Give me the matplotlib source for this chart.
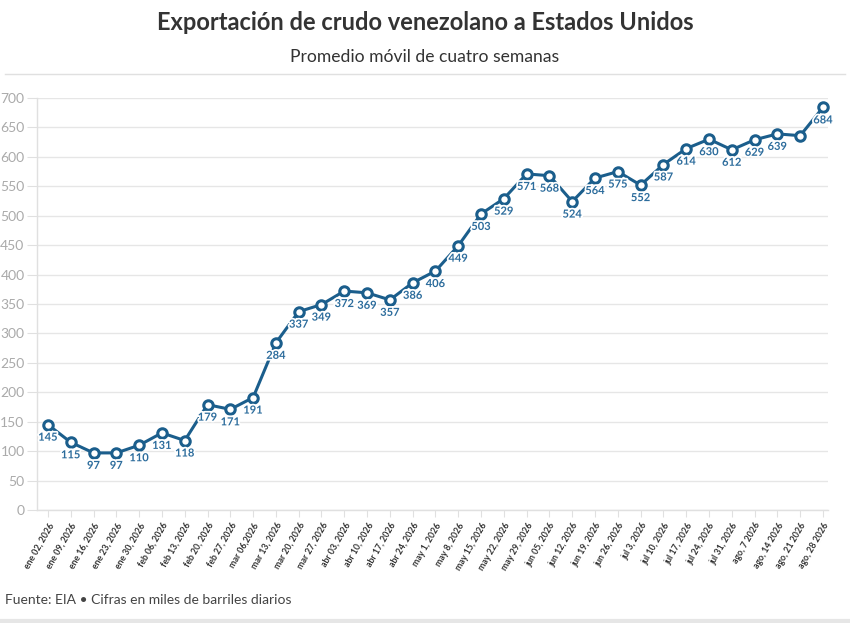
import matplotlib
matplotlib.use("Agg")
import matplotlib.pyplot as plt
import matplotlib.patheffects as pe
from matplotlib.lines import Line2D

dates = ["ene 02, 2026", "ene 09, 2026", "ene 16, 2026", "ene 23, 2026", "ene 30, 2026",
         "feb 06, 2026", "feb 13, 2026", "feb 20, 2026", "feb 27, 2026",
         "mar 06,2026", "mar 13, 2026", "mar 20, 2026", "mar 27, 2026",
         "abr 03, 2026", "abr 10, 2026", "abr 17, 2026", "abr 24, 2026",
         "may 1, 2026", "may 8, 2026", "may 15, 2026", "may 22, 2026", "may 29, 2026",
         "jun 05, 2026", "jun 12, 2026", "jun 19, 2026", "jun 26, 2026",
         "jul 3, 2026", "jul 10, 2026", "jul 17, 2026", "jul 24, 2026", "jul 31, 2026",
         "ago, 7 2026", "ago, 14 2026", "ago, 21 2026", "ago, 28 2026"]
values = [145, 115, 97, 97, 110, 131, 118, 179, 171, 191, 284, 337, 349, 372, 369, 357,
          386, 406, 449, 503, 529, 571, 568, 524, 564, 575, 552, 587, 614, 630, 612, 629,
          639, 636, 684]
hidden_labels = ["ago, 21 2026"]
yticks = [0, 50, 100, 150, 200, 250, 300, 350, 400, 450, 500, 550, 600, 650, 700]

title = "Exportación de crudo venezolano a Estados Unidos"
subtitle = "Promedio móvil de cuatro semanas"
footer = "Fuente: EIA • Cifras en miles de barriles diarios"

plt.rcParams['font.family'] = ['Lato', 'DejaVu Sans']

W, H = 850, 623
fig = plt.figure(figsize=(W / 100, H / 100), dpi=100)
fig.patch.set_facecolor("white")

ax = fig.add_axes([37 / W, 1 - 510 / H, (828 - 37) / W, (510 - 98) / H])
x = list(range(len(values)))
color = "#1b5e8c"
ax.plot(x, values, color=color, lw=2.2, zorder=3, clip_on=False,
        marker="o", markersize=6.8, markerfacecolor="white",
        markeredgecolor=color, markeredgewidth=2.2)

for xi, v, d in zip(x, values, dates):
    if d in hidden_labels:
        continue
    ax.annotate(str(v), (xi, v), xytext=(0, -9), textcoords="offset points",
                ha="center", va="center", fontsize=8, fontweight="bold",
                color="#2c6c9c", zorder=4,
                path_effects=[pe.withStroke(linewidth=2.5, foreground="white")])

ax.set_xlim(-0.48, len(values) - 1 + 0.22)
ax.set_ylim(0, 700)
ax.set_yticks(yticks)
ax.set_yticklabels([str(t) for t in yticks])
ax.set_xticks(x)
ax.set_xticklabels(dates, rotation=60, ha="right", rotation_mode="anchor",
                   fontsize=6.3, fontweight="bold", color="#333333")
ax.tick_params(axis="x", length=5, width=0.8, color="#e0e0e0", pad=3)
ax.tick_params(axis="y", length=7, width=0.8, color="#e0e0e0", pad=2,
               labelsize=10, labelcolor="#aaaaaa")
ax.grid(axis="y", color="#e6e6e6", lw=1, zorder=0)
for s in ["top", "right"]:
    ax.spines[s].set_visible(False)
for s in ["left", "bottom"]:
    ax.spines[s].set_color("#e0e0e0")
    ax.spines[s].set_linewidth(1)
ax.set_axisbelow(True)

fig.text(0.5, 1 - 22 / H, title, ha="center", va="center", fontsize=17,
         fontweight="bold", color="#333333")
fig.text(0.5, 1 - 57 / H, subtitle, ha="center", va="center", fontsize=12.6,
         color="#333333")
fig.add_artist(Line2D([5 / W, 845 / W], [1 - 74 / H, 1 - 74 / H], color="#e0e0e0", lw=1))
fig.text(5 / W, 1 - 600 / H, footer, ha="left", va="center", fontsize=10,
         color="#444444")
fig.add_artist(Line2D([0, 1], [1 - 621 / H, 1 - 621 / H], color="#e6e6e6", lw=3))

fig.savefig("out.png", dpi=100, facecolor="white")
